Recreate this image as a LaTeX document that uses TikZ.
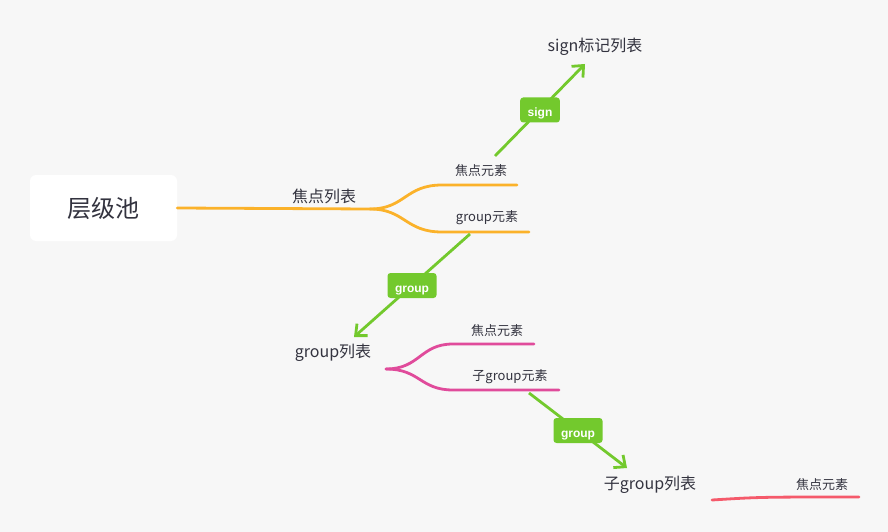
\documentclass[tikz,border=0pt]{standalone}
\usepackage{fontspec}
\setmainfont{Noto Sans CJK SC}
\newfontfamily\tagfont{Liberation Sans}
\usetikzlibrary{arrows.meta}
\definecolor{bgcol}{HTML}{F7F7F7}
\definecolor{txtcol}{HTML}{33333F}
\definecolor{orangeln}{HTML}{FBB22A}
\definecolor{greenln}{HTML}{73C92D}
\definecolor{pinkln}{HTML}{E04B9B}
\definecolor{redln}{HTML}{F55A6B}

\begin{document}
\begin{tikzpicture}[x=1pt,y=-1pt,
  every node/.style={text=txtcol,inner sep=0pt},
  topic/.style={font=\fontsize{16}{19}\selectfont},
  leaf/.style={font=\fontsize{13}{15}\selectfont},
  branch/.style={line width=2.8pt,line cap=round},
  link/.style={draw=greenln,line width=2.8pt,-{Straight Barb[length=9pt,width=16pt]}},
  tag/.style={fill=greenln,rounded corners=3pt,text=white,
    font=\tagfont\bfseries\fontsize{12}{14}\selectfont,
    inner xsep=7.5pt,text height=14pt,text depth=0pt,minimum height=25pt}]

  \fill[bgcol] (0,0) rectangle (888,532);
  \useasboundingbox (0,0) rectangle (888,532);

  \node[fill=white,rounded corners=6pt,minimum width=147pt,minimum height=66pt,
    font=\fontsize{24}{28}\selectfont] (pool) at (103.5,208) {层级池};

  \coordinate (fork1) at (370,209);
  \coordinate (focusend) at (517,185);
  \coordinate (groupend) at (529,232);
  \draw[branch,orangeln] (pool.east) -- (fork1);
  \draw[branch,orangeln] (fork1) .. controls (405,209) and (405,185) .. (442,185) -- (focusend);
  \draw[branch,orangeln] (fork1) .. controls (405,209) and (405,232) .. (442,232) -- (groupend);
  \node[topic] (focuslist) at (324,196) {焦点列表};
  \node[leaf] (focuselem) at (481,171) {焦点元素};
  \node[leaf] (groupelem) at (487,218) {group元素};

  \node[topic] (signlist) at (595,47) {sign标记列表};
  \coordinate (signfrom) at (495,156);
  \coordinate (signtip) at (585,64);
  \draw[link] (signfrom) -- node[tag] (signtag) {sign} (signtip);

  \node[topic] (grouplist) at (333,353) {group列表};
  \coordinate (groupfrom) at (470,234);
  \coordinate (grouptip) at (354,337);
  \draw[link] (groupfrom) -- node[tag] (grouptag) {group} (grouptip);

  \coordinate (fork2) at (386,369);
  \coordinate (pfocusend) at (534,344);
  \coordinate (subgroupend) at (559,390);
  \draw[branch,pinkln] (fork2) .. controls (420,369) and (420,344) .. (453,344) -- (pfocusend);
  \draw[branch,pinkln] (fork2) .. controls (420,369) and (420,390) .. (453,390) -- (subgroupend);
  \node[leaf] (pfocuselem) at (497,331) {焦点元素};
  \node[leaf] (subgroupelem) at (510,377) {子group元素};

  \node[topic] (subgrouplist) at (650,485) {子group列表};
  \coordinate (subfrom) at (529,393);
  \coordinate (subtip) at (627,468);
  \draw[link] (subfrom) -- node[tag] (subtag) {group} (subtip);

  \coordinate (redstart) at (712,500);
  \coordinate (redend) at (859,497);
  \draw[branch,redln] (redstart) .. controls (760,497) .. (redend);
  \node[leaf] (rfocuselem) at (822,485) {焦点元素};

\end{tikzpicture}
\end{document}
